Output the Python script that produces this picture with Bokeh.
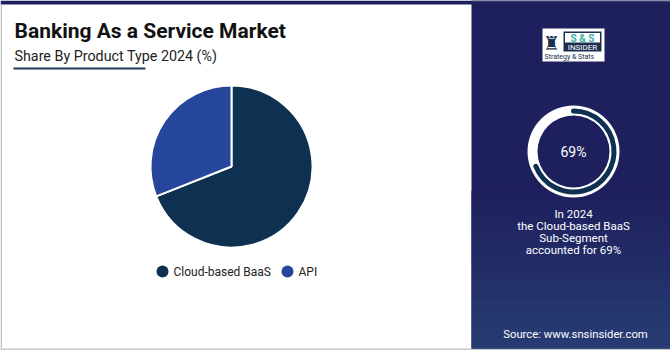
import math
from bokeh.plotting import figure
from bokeh.models import Range1d
from bokeh.core.properties import value
from bokeh.embed import file_html
from bokeh.resources import INLINE

# ---- data ----
title = "Banking As a Service Market"
subtitle = "Share By Product Type 2024 (%)"
categories = ["Cloud-based BaaS", "API"]
shares = [69, 31]
colors = ["#0e3152", "#26469b"]
highlight_year = "2024"
highlight_segment = "Cloud-based BaaS"
highlight_value = 69
source_text = "Source: www.snsinsider.com"

W, H = 670, 350
def Y(v):
    return H - v

FONT = "Roboto"

p = figure(width=W, height=H, x_range=Range1d(0, W), y_range=Range1d(0, H),
           x_axis_type=None, y_axis_type=None, toolbar_location=None,
           output_backend="svg", min_border=0)
p.grid.visible = False
p.outline_line_color = None
p.background_fill_color = "white"
p.border_fill_color = "white"

# ---- frame ----
p.quad(left=0, right=W, top=Y(0), bottom=Y(4), fill_color="#1e1f5d", line_color=None)
p.quad(left=0, right=1.5, top=Y(4), bottom=Y(350), fill_color="#c4c4c4", line_color=None)
p.quad(left=0, right=W, top=Y(348), bottom=Y(350), fill_color="#c8c8c8", line_color=None)

# right panel with gradient
PX0 = 471
p.quad(left=PX0, right=W, top=Y(0), bottom=Y(348), fill_color="#1e1f5d", line_color=None)
c0 = (0x1e, 0x1f, 0x5d)
c1 = (0x27, 0x3c, 0x73)
n = 40
g0, g1 = 190, 348
for i in range(n):
    t = (i + 0.5) / n
    c = tuple(int(round(a + (b - a) * t)) for a, b in zip(c0, c1))
    ya = g0 + (g1 - g0) * i / n
    yb = g0 + (g1 - g0) * (i + 1) / n
    p.quad(left=PX0, right=W, top=Y(ya), bottom=Y(yb) - 0.3,
           fill_color="#%02x%02x%02x" % c, line_color=None)
p.quad(left=PX0, right=W, top=Y(0), bottom=Y(1), fill_color="#5a5b80", line_color=None)

# ---- titles ----
p.text(x=[14], y=[Y(30)], text=[title], text_font=value(FONT), text_font_style="bold",
       text_font_size="21px", text_color="#111111", text_baseline="middle", text_align="left")
p.text(x=[14], y=[Y(55)], text=[subtitle], text_font=value(FONT),
       text_font_size="14.3px", text_color="#222222", text_baseline="middle", text_align="left")
p.quad(left=13, right=145, top=Y(67), bottom=Y(69), fill_color="#1b3a5c", line_color=None)

# ---- pie ----
cx, cy, r = 231, Y(166), 81
total = sum(shares)
start = math.pi / 2
for name, v, col in zip(categories, shares, colors):
    end = start - v / total * 2 * math.pi
    p.wedge(x=[cx], y=[cy], radius=r, start_angle=start, end_angle=end, direction="clock",
            fill_color=col, line_color="white", line_width=2)
    start = end

# ---- legend ----
leg_x = [162, 287]
for lx, name, col in zip(leg_x, categories, colors):
    p.scatter(x=[lx], y=[Y(271)], size=12, marker="circle", fill_color=col, line_color=None)
    p.text(x=[lx + 11], y=[Y(271)], text=[name], text_font=value(FONT),
           text_font_size="12px", text_color="#222222", text_baseline="middle", text_align="left")

# ---- logo ----
p.quad(left=542, right=604, top=Y(28), bottom=Y(61), fill_color="white", line_color=None)
p.text(x=[551], y=[Y(42)], text=["\u265c"], text_font=value("DejaVu Sans"),
       text_font_size="19px", text_color="#1b2f4f", text_baseline="middle", text_align="center")
p.quad(left=563, right=601, top=Y(31), bottom=Y(51), fill_color="#1b2f4f", line_color=None)
p.quad(left=564.5, right=599.5, top=Y(32.5), bottom=Y(42), fill_color="white", line_color=None)
p.text(x=[582], y=[Y(37.5)], text=["S & S"], text_font=value(FONT), text_font_style="bold",
       text_font_size="10px", text_color="#3bb3a6", text_baseline="middle", text_align="center")
p.text(x=[582], y=[Y(46.5)], text=["INSIDER"], text_font=value(FONT),
       text_font_size="8px", text_color="white", text_baseline="middle", text_align="center")
p.text(x=[544], y=[Y(56.5)], text=["Strategy & Stats"], text_font=value(FONT),
       text_font_size="7px", text_color="#1b2f4f", text_baseline="middle", text_align="left")

# ---- ring ----
rx, ry = 573, Y(151)
p.annulus(x=[rx], y=[ry], inner_radius=36, outer_radius=46, fill_color="white", line_color=None)
p.arc(x=[rx], y=[ry], radius=40.5, start_angle=math.pi / 2,
      end_angle=math.pi / 2 - highlight_value / 100 * 2 * math.pi, direction="clock",
      line_color="#0e3152", line_width=5, line_cap="round")
p.text(x=[rx], y=[ry], text=[f"{highlight_value}%"], text_font=value(FONT),
       text_font_size="14px", text_color="white", text_baseline="middle", text_align="center")

lines = [f"In {highlight_year}", f"the {highlight_segment}", "Sub-Segment",
         f"accounted for {highlight_value}%"]
for i, ln in enumerate(lines):
    p.text(x=[rx], y=[Y(213 + 12 * i)], text=[ln], text_font=value(FONT),
           text_font_size="11.5px", text_color="white", text_baseline="middle", text_align="center")

p.text(x=[575], y=[Y(334)], text=[source_text], text_font=value(FONT),
       text_font_size="11.3px", text_color="white", text_baseline="middle", text_align="center")

open("out.html", "w").write(file_html(p, INLINE))
